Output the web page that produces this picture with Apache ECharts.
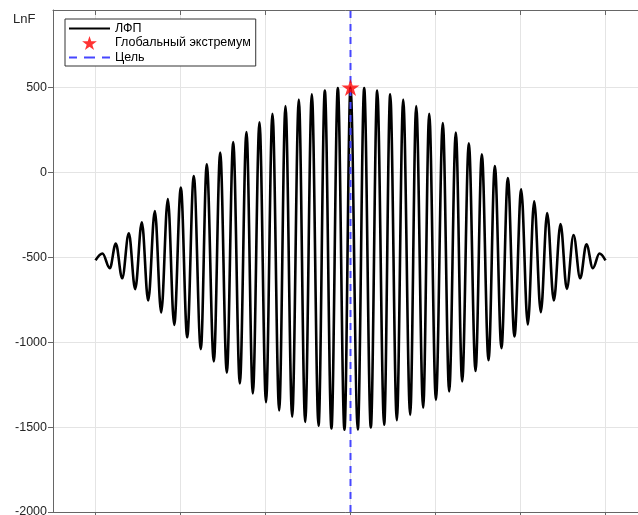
<!DOCTYPE html>
<html>
<head>
<meta charset="utf-8">
<script src="https://cdn.jsdelivr.net/npm/echarts@6/dist/echarts.min.js"></script>
<style>
html, body { margin: 0; padding: 0; background: #fff; }
#chart { width: 638px; height: 515px; }
</style>
</head>
<body>
<div id="chart"></div>
<script>
// Successive extrema of the ЛФП curve (start, peaks and troughs alternating, end)
const extremaX = [
  0, 0.82, 1.68, 2.39, 3.14, 3.92, 4.67, 5.45, 6.20, 6.98,
  7.73, 8.51, 9.26, 10.04, 10.79, 11.56, 12.39, 13.09, 13.92, 14.67,
  15.45, 16.20, 16.98, 17.76, 18.51, 19.29, 20.06, 20.82, 21.61, 22.35,
  23.14, 23.92, 24.67, 25.45, 26.24, 26.98, 27.76, 28.51, 29.29, 30.00,
  30.86, 31.61, 32.39, 33.14, 33.96, 34.67, 35.45, 36.20, 37.02, 37.73,
  38.55, 39.26, 40.05, 40.86, 41.61, 42.39, 43.14, 43.92, 44.71, 45.45,
  46.24, 46.98, 47.76, 48.51, 49.29, 50.08, 50.86, 51.61, 52.39, 53.14,
  53.92, 54.71, 55.45, 56.24, 57.02, 57.76, 58.51, 59.29, 60
];
const extremaY = [
  -518, -478, -565, -419, -624, -359, -688, -294, -755, -228,
  -825, -157, -898, -90, -971, -22, -1041, 47, -1113, 116,
  -1180, 178, -1243, 237, -1302, 294, -1353, 345, -1402, 390,
  -1439, 428, -1470, 459, -1492, 481, -1508, 496, -1516, 500,
  -1514, 496, -1502, 481, -1486, 459, -1460, 428, -1428, 390,
  -1386, 345, -1340, 290, -1290, 234, -1231, 171, -1169, 106,
  -1106, 37, -1035, -34, -966, -100, -896, -171, -823, -240,
  -755, -304, -686, -369, -624, -423, -565, -478, -518
];

// Global extremum and target position
const extremumX = [30];
const extremumY = [500];
const targetX = [30, 30];
const targetY = [-2000, 956];

// Axis ranges and ticks
const xRange = [-5, 65];
const yRange = [-2000, 956];
const xTicks = [0, 10, 20, 30, 40, 50, 60];
const yTicks = [-2000, -1500, -1000, -500, 0, 500];

const seriesNames = ['ЛФП', 'Глобальный экстремум', 'Цель'];

const FONT = '"Liberation Sans", Arial, Helvetica, sans-serif';
const AXIS_COLOR = '#666666';
const GRID_COLOR = '#e4e4e4';
const STAR = 'path://M0,-1 L0.2245,-0.309 L0.951,-0.309 L0.363,0.118 L0.588,0.809 L0,0.382 L-0.588,0.809 L-0.363,0.118 L-0.951,-0.309 L-0.2245,-0.309 Z';
// Legend swatches: a solid bar and a dashed bar, 41 x 2
const SOLID_ICON = 'path://M0,0 L41,0 L41,2 L0,2 Z';
const DASHED_ICON = 'path://M0,0 L8,0 L8,2 L0,2 Z M15,0 L26,0 L26,2 L15,2 Z M33,0 L41,0 L41,2 L33,2 Z';

const zip = (xs, ys) => xs.map((x, i) => [x, ys[i]]);

const chart = echarts.init(document.getElementById('chart'), null, { renderer: 'canvas' });

chart.setOption({
  animation: false,
  backgroundColor: '#ffffff',
  title: {
    text: 'LnF',
    left: 13,
    top: 13,
    padding: 0,
    textStyle: { fontFamily: FONT, fontSize: 13, fontWeight: 'normal', color: '#262626' }
  },
  grid: { left: 53, top: 10, width: 595, height: 502, containLabel: false, outerBoundsMode: 'none' },
  legend: {
    orient: 'vertical',
    left: 65,
    top: 19,
    itemWidth: 41,
    itemHeight: 14,
    itemGap: 1,
    padding: [3, 5, 2, 4],
    backgroundColor: '#ffffff',
    borderColor: '#333333',
    borderWidth: 1,
    borderRadius: 0,
    selectedMode: false,
    textStyle: { fontFamily: FONT, fontSize: 12.5, color: '#000000' },
    data: [
      { name: seriesNames[0], icon: SOLID_ICON },
      { name: seriesNames[1] },
      { name: seriesNames[2], icon: DASHED_ICON }
    ]
  },
  xAxis: [
    {
      type: 'value',
      position: 'bottom',
      min: xRange[0],
      max: xRange[1],
      axisLine: { show: true, onZero: false, lineStyle: { color: AXIS_COLOR, width: 1 } },
      axisTick: { show: true, inside: false, length: 5, customValues: xTicks, lineStyle: { color: AXIS_COLOR } },
      axisLabel: { show: true, customValues: xTicks, margin: 8, fontFamily: FONT, fontSize: 12, color: '#262626' },
      splitLine: { show: true, lineStyle: { color: GRID_COLOR, width: 1 } }
    },
    {
      type: 'value',
      position: 'top',
      min: xRange[0],
      max: xRange[1],
      axisLine: { show: true, onZero: false, lineStyle: { color: AXIS_COLOR, width: 1 } },
      axisTick: { show: true, inside: true, length: 5, customValues: xTicks, lineStyle: { color: AXIS_COLOR } },
      axisLabel: { show: false },
      splitLine: { show: false }
    }
  ],
  yAxis: {
    type: 'value',
    min: yRange[0],
    max: yRange[1],
    axisLine: { show: true, onZero: false, lineStyle: { color: AXIS_COLOR, width: 1 } },
    axisTick: { show: true, inside: false, length: 5, customValues: yTicks, lineStyle: { color: AXIS_COLOR } },
    axisLabel: {
      show: true, customValues: yTicks, margin: 6, fontFamily: FONT, fontSize: 12.5, color: '#262626',
      formatter: (v) => String(v)
    },
    splitLine: { show: true, lineStyle: { color: GRID_COLOR, width: 1 } }
  },
  series: [
    {
      name: seriesNames[0],
      type: 'line',
      data: zip(extremaX, extremaY),
      smooth: 0.36,
      smoothMonotone: 'x',
      symbol: 'none',
      lineStyle: { color: '#000000', width: 2.6 },
      itemStyle: { color: '#000000' },
      emphasis: { disabled: true },
      z: 2
    },
    {
      name: seriesNames[1],
      type: 'scatter',
      data: zip(extremumX, extremumY),
      symbol: STAR,
      symbolSize: 18,
      symbolKeepAspect: true,
      itemStyle: { color: '#ff0000' },
      emphasis: { disabled: true },
      z: 5
    },
    {
      name: seriesNames[2],
      type: 'line',
      data: zip(targetX, targetY),
      symbol: 'none',
      lineStyle: { color: '#4646ff', width: 2, type: [7, 6] },
      itemStyle: { color: '#4646ff' },
      emphasis: { disabled: true },
      z: 4
    }
  ]
});
</script>
</body>
</html>
